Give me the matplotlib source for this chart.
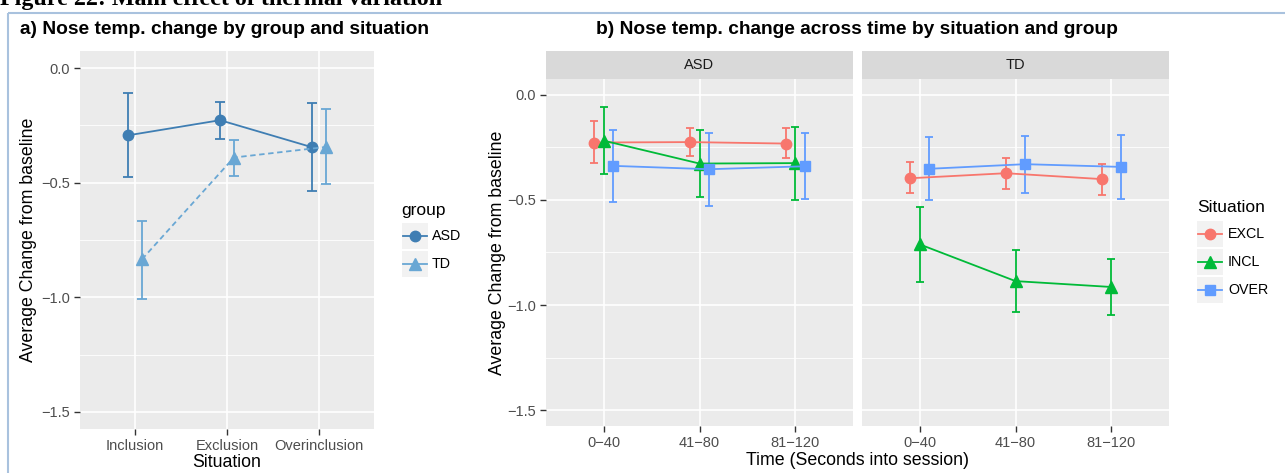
import matplotlib
matplotlib.use("Agg")
import matplotlib.pyplot as plt
from matplotlib.patches import Rectangle
from matplotlib.lines import Line2D
import numpy as np

plt.rcParams['font.family'] = ['Liberation Sans', 'DejaVu Sans']

# ---------------- data ----------------
situations = ["Inclusion", "Exclusion", "Overinclusion"]
groups = ["ASD", "TD"]
a_asd_mean = [-0.293, -0.227, -0.345]
a_asd_low = [-0.476, -0.309, -0.536]
a_asd_high = [-0.108, -0.148, -0.154]
a_td_mean = [-0.834, -0.390, -0.344]
a_td_low = [-1.007, -0.472, -0.505]
a_td_high = [-0.668, -0.314, -0.179]

times = ["0\u221240", "41\u221280", "81\u2212120"]
facets = ["ASD", "TD"]
sit_codes = ["EXCL", "INCL", "OVER"]
# ASD facet
b_asd_excl = [-0.227, -0.225, -0.232]
b_asd_excl_low = [-0.325, -0.290, -0.300]
b_asd_excl_high = [-0.127, -0.157, -0.160]
b_asd_incl = [-0.218, -0.327, -0.325]
b_asd_incl_low = [-0.376, -0.487, -0.498]
b_asd_incl_high = [-0.059, -0.167, -0.154]
b_asd_over = [-0.338, -0.354, -0.340]
b_asd_over_low = [-0.508, -0.528, -0.494]
b_asd_over_high = [-0.167, -0.181, -0.181]
# TD facet
b_td_excl = [-0.397, -0.373, -0.401]
b_td_excl_low = [-0.468, -0.448, -0.478]
b_td_excl_high = [-0.322, -0.301, -0.327]
b_td_incl = [-0.711, -0.886, -0.914]
b_td_incl_low = [-0.890, -1.033, -1.048]
b_td_incl_high = [-0.533, -0.740, -0.781]
b_td_over = [-0.352, -0.330, -0.343]
b_td_over_low = [-0.498, -0.467, -0.497]
b_td_over_high = [-0.203, -0.195, -0.192]

# ---------------- layout helpers ----------------
W, H = 1285, 473
fig = plt.figure(figsize=(W / 100, H / 100), dpi=100)


def ax_px(l, t, r, b, **kw):
    return fig.add_axes([l / W, 1 - b / H, (r - l) / W, (b - t) / H], **kw)


PANEL_BG = "#ebebeb"
STRIP_BG = "#d9d9d9"
TICK_COL = "#4d4d4d"
YTICKS = [0.0, -0.5, -1.0, -1.5]
YMINOR = [-0.25, -0.75, -1.25]
YLIM = (-1.575, 0.075)
F_TICK = 10.5
F_AXIS = 12.8
F_TITLE = 13.8
F_LEGT = 12.5
F_LEGL = 10.3


def style_axes(ax, ticklabels, show_y=True):
    ax.set_facecolor(PANEL_BG)
    for s in ax.spines.values():
        s.set_visible(False)
    ax.set_xlim(0.4, 3.6)
    ax.set_ylim(*YLIM)
    ax.set_xticks([1, 2, 3])
    ax.set_xticklabels(ticklabels)
    ax.set_yticks(YTICKS)
    ax.set_yticklabels(["0.0", "\u22120.5", "\u22121.0", "\u22121.5"] if show_y else [])
    ax.set_yticks(YMINOR, minor=True)
    ax.tick_params(axis='both', which='major', length=4, width=1.0, color="#333333",
                   labelcolor=TICK_COL, labelsize=F_TICK, pad=3)
    ax.tick_params(axis='y', which='minor', length=0)
    if not show_y:
        ax.tick_params(axis='y', which='major', length=0)
    ax.grid(True, which='major', color='white', linewidth=1.2)
    ax.grid(True, which='minor', axis='y', color='white', linewidth=0.6)
    ax.set_axisbelow(True)


# ---------------- overlay (title + border) ----------------
ov = fig.add_axes([0, 0, 1, 1], zorder=-5)
ov.set_xlim(0, W)
ov.set_ylim(H, 0)
ov.axis('off')
ov.add_patch(Rectangle((8, 13), W, H, fill=False, edgecolor="#a9c2de", linewidth=1.5))
ov.text(0, 5.5, "Figure 22: Main effect of thermal variation", family="Liberation Serif",
        fontweight="bold", fontsize=17.3, va="baseline", ha="left", color="black")

# ---------------- panel a ----------------
axa = ax_px(80, 51, 374, 429)
style_axes(axa, situations)
xa = np.arange(1, 4)
c_asd = "#3f7eb3"
c_td = "#69a7d4"
dod = 0.075
axa.errorbar(xa - dod, a_asd_mean,
             yerr=[np.array(a_asd_mean) - np.array(a_asd_low), np.array(a_asd_high) - np.array(a_asd_mean)],
             color=c_asd, marker='o', markersize=7.5, linewidth=1.3, elinewidth=1.3, capsize=3.5,
             capthick=1.3, linestyle='-', zorder=3)
axa.errorbar(xa + dod, a_td_mean,
             yerr=[np.array(a_td_mean) - np.array(a_td_low), np.array(a_td_high) - np.array(a_td_mean)],
             color=c_td, marker='^', markersize=8, linewidth=1.3, elinewidth=1.3, capsize=3.5,
             capthick=1.3, linestyle=(0, (3, 2)), zorder=3)
axa.set_xlabel("Situation", fontsize=F_AXIS, labelpad=1, color="black")
axa.set_ylabel("Average Change from baseline", fontsize=F_AXIS, labelpad=3, color="black")
fig.text(20 / W, 1 - 30 / H, "a) Nose temp. change by group and situation", fontsize=F_TITLE,
         fontweight="bold", ha="left", va="center")

# legend a
ov.text(401, 210, "group", fontsize=F_LEGT, va="center", ha="left")
for i, (g, col, mk) in enumerate(zip(groups, [c_asd, c_td], ['o', '^'])):
    yc = 236 + i * 27.5
    ov.add_patch(Rectangle((402, yc - 13), 25.5, 26, facecolor="#f2f2f2", edgecolor="none"))
    ov.add_line(Line2D([403, 426.5], [yc, yc], color=col, linewidth=1.3, marker=None))
    ov.plot([414.75], [yc], marker=mk, color=col, markersize=7.5 if mk == 'o' else 8)
    ov.text(432, yc, g, fontsize=F_LEGL, va="center", ha="left")

# ---------------- panel b ----------------
b_data = {
    "ASD": [(b_asd_excl, b_asd_excl_low, b_asd_excl_high),
            (b_asd_incl, b_asd_incl_low, b_asd_incl_high),
            (b_asd_over, b_asd_over_low, b_asd_over_high)],
    "TD": [(b_td_excl, b_td_excl_low, b_td_excl_high),
           (b_td_incl, b_td_incl_low, b_td_incl_high),
           (b_td_over, b_td_over_low, b_td_over_high)],
}
sit_colors = ["#F8766D", "#00BA38", "#619CFF"]
sit_markers = ['o', '^', 's']
sit_msize = [7.5, 8.5, 7.5]
offsets = [-0.1, 0.0, 0.1]
facet_px = [(546, 853), (862, 1169)]
for fi, (fname, (l, r)) in enumerate(zip(facets, facet_px)):
    ax = ax_px(l, 79, r, 426)
    style_axes(ax, times, show_y=(fi == 0))
    for si in range(3):
        m, lo, hi = b_data[fname][si]
        m = np.array(m); lo = np.array(lo); hi = np.array(hi)
        ax.errorbar(xa + offsets[si], m, yerr=[m - lo, hi - m], color=sit_colors[si],
                    marker=sit_markers[si], markersize=sit_msize[si], linewidth=1.3,
                    elinewidth=1.3, capsize=3, capthick=1.3, zorder=3)
    if fi == 0:
        ax.set_ylabel("Average Change from baseline", fontsize=F_AXIS, labelpad=1, color="black")
    sax = ax_px(l, 51, r, 79)
    sax.set_facecolor(STRIP_BG)
    sax.set_xticks([]); sax.set_yticks([])
    for s in sax.spines.values():
        s.set_visible(False)
    sax.text(0.5, 0.5, fname, transform=sax.transAxes, ha="center", va="center",
             fontsize=10.5, color="#1a1a1a")

fig.text(857 / W, 1 - 460 / H, "Time (Seconds into session)", fontsize=F_AXIS, ha="center", va="center")
fig.text(857 / W, 1 - 30 / H, "b) Nose temp. change across time by situation and group", fontsize=F_TITLE,
         fontweight="bold", ha="center", va="center")

# legend b
ov.text(1197, 207, "Situation", fontsize=F_LEGT, va="center", ha="left")
for i, (s, col, mk) in enumerate(zip(sit_codes, sit_colors, sit_markers)):
    yc = 234 + i * 28
    ov.add_patch(Rectangle((1197, yc - 13), 26, 26, facecolor="#f2f2f2", edgecolor="none"))
    ov.add_line(Line2D([1198, 1222], [yc, yc], color=col, linewidth=1.3))
    ov.plot([1210], [yc], marker=mk, color=col, markersize=sit_msize[i])
    ov.text(1228, yc, s, fontsize=F_LEGL, va="center", ha="left")

fig.savefig("out.png", dpi=100)
